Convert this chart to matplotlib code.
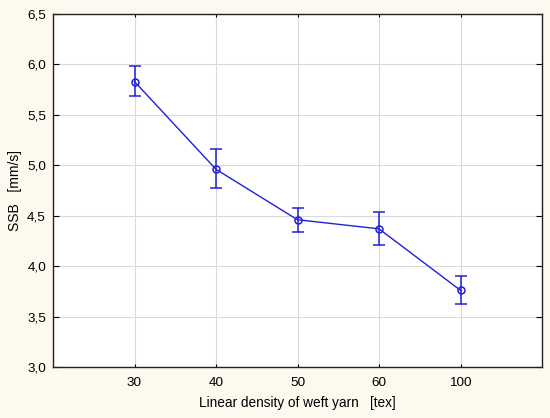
import numpy as np
import matplotlib.pyplot as plt

plt.rcParams['font.family'] = ['Liberation Sans', 'DejaVu Sans']

# weft yarn linear density and measured SSB
categories = ['30', '40', '50', '60', '100']
ssb_mean = [5.83, 4.96, 4.46, 4.37, 3.76]
ssb_upper = [5.98, 5.16, 4.58, 4.54, 3.90]
ssb_lower = [5.69, 4.77, 4.34, 4.21, 3.62]
y_ticks = [3.0, 3.5, 4.0, 4.5, 5.0, 5.5, 6.0, 6.5]

x = np.arange(len(categories))
mean = np.array(ssb_mean)
yerr = [mean - np.array(ssb_lower), np.array(ssb_upper) - mean]

fig = plt.figure(figsize=(5.5, 4.18), dpi=100)
fig.patch.set_facecolor('#fdf9ef')
ax = fig.add_axes([53/550, 1 - 367/418, 489/550, 353/418])
ax.set_facecolor('white')

ax.errorbar(x, mean, yerr=yerr, color='#2020d8', lw=1.0, marker='o', ms=5,
            mfc='none', mec='#2020d8', mew=1.1, capsize=4, elinewidth=1.1, zorder=3)

ax.set_xlim(-1, 5)
ax.set_ylim(3.0, 6.5)
ax.set_xticks(x)
ax.set_xticklabels(categories)
ax.set_yticks(y_ticks)
ax.set_yticklabels([f'{v:.1f}'.replace('.', ',') for v in y_ticks])
ax.grid(True, color='#dadada', lw=0.8, zorder=0)
ax.set_axisbelow(True)

ax.tick_params(axis='both', labelsize=9.7, colors='black')
ax.tick_params(axis='x', direction='in', length=2, top=True, pad=7)
ax.tick_params(axis='y', direction='in', length=4, right=True, pad=5)
for s in ax.spines.values():
    s.set_color('#222222')
    s.set_linewidth(1.0)

ax.set_xlabel('Linear density of weft yarn   [tex]', fontsize=9.8, labelpad=5)
ax.set_ylabel('SSB   [mm/s]', fontsize=10, labelpad=4)

fig.savefig('out.png', dpi=100, facecolor=fig.get_facecolor())
